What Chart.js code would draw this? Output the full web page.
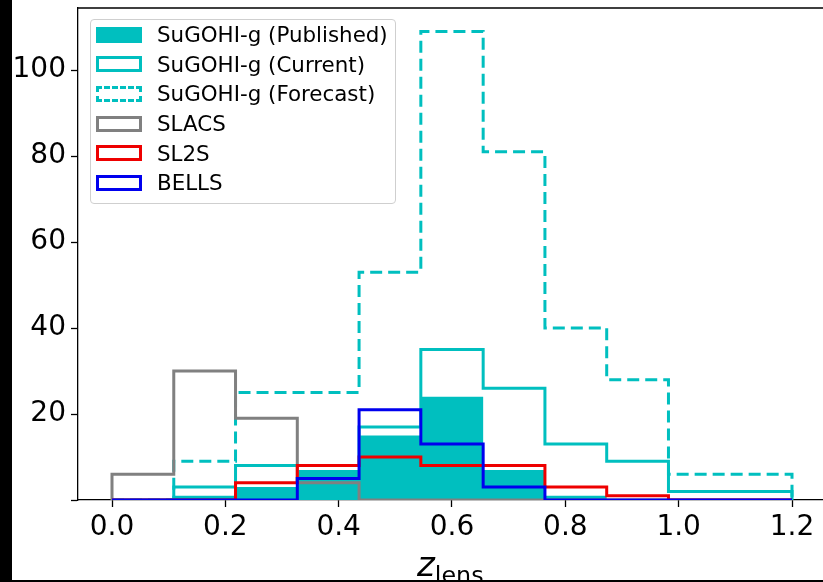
<!DOCTYPE html>
<html>
<head>
<meta charset="utf-8">
<script src="https://cdn.jsdelivr.net/npm/chart.js@4/dist/chart.umd.min.js"></script>
<style>
  html, body { margin: 0; padding: 0; background: #000; width: 823px; height: 582px; overflow: hidden; }
  #frame { position: absolute; left: 12px; top: 0; width: 811px; height: 580px; background: #fff; overflow: hidden; }
  #box { position: absolute; left: 0; top: 0; width: 830px; height: 580px; }
  #legend {
    position: absolute; left: 78px; top: 19px; width: 306px; box-sizing: border-box;
    border: 1px solid #cfcfcf; border-radius: 4px; background: rgba(255,255,255,0.8);
    padding: 0 0 5px 0; font-family: "DejaVu Sans", sans-serif; font-size: 21.4px; color: #000;
  }
  .row { height: 29.6px; display: flex; align-items: center; }
  .patch { width: 46px; height: 16px; margin-left: 5px; margin-right: 15px; box-sizing: border-box; }
  #xlabel { position: absolute; left: 405px; top: 544px; font-family: "DejaVu Sans", sans-serif; font-size: 34px; color: #000; white-space: nowrap; }
  #xlabel i { font-style: italic; }
  #xlabel sub { font-size: 0.7em; vertical-align: -0.3em; }
</style>
</head>
<body>
<div id="frame">
  <div id="box"><canvas id="histChart"></canvas></div>
  <div id="legend"></div>
  <div id="xlabel"><i>z</i><sub>lens</sub></div>
</div>
<script>
// 히스토그램 구간 경계 (z_lens)
const binEdges = [0, 0.109, 0.218, 0.327, 0.436, 0.545, 0.655, 0.764, 0.873, 0.982, 1.091, 1.2];

// 각 샘플의 구간별 렌즈 개수
const publishedCounts = [0, 1, 3, 7, 15, 24, 7, 1, 0, 0, 0];
const currentCounts = [0, 3, 8, 8, 17, 35, 26, 13, 9, 2, 2];
const forecastCounts = [0, 9, 25, 25, 53, 109, 81, 40, 28, 6, 6];
const slacsCounts = [6, 30, 19, 4, 0, 0, 0, 0, 0, 0, 0];
const sl2sCounts = [0, 0, 4, 8, 10, 8, 8, 3, 1, 0, 0];
const bellsCounts = [0, 0, 0, 5, 21, 13, 3, 0, 0, 0, 0];

const xTicks = [0.0, 0.2, 0.4, 0.6, 0.8, 1.0, 1.2];
const yTicks = [0, 20, 40, 60, 80, 100];

const cyan = "#00bfbf";

// 계단형 히스토그램 윤곽선 좌표 만들기
function stepPoints(counts) {
  const pts = [{ x: binEdges[0], y: 0 }];
  counts.forEach((c, i) => pts.push({ x: binEdges[i], y: c }));
  const last = binEdges.length - 1;
  pts.push({ x: binEdges[last], y: counts[counts.length - 1] });
  pts.push({ x: binEdges[last], y: 0 });
  return pts;
}

const series = [
  { label: "SuGOHI-g (Published)", data: publishedCounts, color: cyan, filled: true, dash: [] },
  { label: "SuGOHI-g (Current)", data: currentCounts, color: cyan, filled: false, dash: [] },
  { label: "SuGOHI-g (Forecast)", data: forecastCounts, color: cyan, filled: false, dash: [12, 6] },
  { label: "SLACS", data: slacsCounts, color: "#808080", filled: false, dash: [] },
  { label: "SL2S", data: sl2sCounts, color: "#ee0000", filled: false, dash: [] },
  { label: "BELLS", data: bellsCounts, color: "#0000ee", filled: false, dash: [] },
];

const datasets = series.map((s, i) => ({
  label: s.label,
  data: stepPoints(s.data),
  stepped: true,
  borderColor: s.color,
  backgroundColor: s.color,
  borderWidth: s.filled ? 0 : 3,
  borderDash: s.dash,
  borderJoinStyle: "miter",
  fill: s.filled ? "origin" : false,
  pointRadius: 0,
  order: series.length - i,
}));

// 위쪽/오른쪽 테두리선
const framePlugin = {
  id: "frame",
  afterDraw(chart) {
    const { ctx, chartArea } = chart;
    ctx.save();
    ctx.strokeStyle = "#000";
    ctx.lineWidth = 1.3;
    ctx.beginPath();
    ctx.moveTo(chartArea.left, chartArea.top);
    ctx.lineTo(chartArea.right, chartArea.top);
    ctx.lineTo(chartArea.right, chartArea.bottom);
    ctx.stroke();
    ctx.restore();
  },
};

const tickFont = { family: "DejaVu Sans", size: 28 };

new Chart(document.getElementById("histChart").getContext("2d"), {
  type: "line",
  data: { datasets: datasets },
  options: {
    responsive: true,
    maintainAspectRatio: false,
    animation: false,
    layout: { padding: { top: 8, right: 16, left: 0, bottom: 0 } },
    plugins: { legend: { display: false }, tooltip: { enabled: false } },
    scales: {
      x: {
        type: "linear",
        min: -0.06,
        max: 1.26,
        afterBuildTicks: (scale) => { scale.ticks = xTicks.map((v) => ({ value: v })); },
        afterFit: (scale) => { scale.height = 80; scale.paddingLeft = 0; scale.paddingRight = 0; },
        ticks: { font: tickFont, color: "#000", padding: 4, maxRotation: 0, callback: (v) => v.toFixed(1) },
        grid: { drawOnChartArea: false, tickLength: 7, tickColor: "#000", tickWidth: 1.3 },
        border: { color: "#000", width: 1.3 },
      },
      y: {
        min: 0,
        max: 114.45,
        afterBuildTicks: (scale) => { scale.ticks = yTicks.map((v) => ({ value: v })); },
        afterFit: (scale) => { scale.width = 66; scale.paddingTop = 0; scale.paddingBottom = 0; },
        ticks: { font: tickFont, color: "#000", padding: 5, callback: (v) => (v === 0 ? "" : v) },
        grid: { drawOnChartArea: false, tickLength: 7, tickColor: "#000", tickWidth: 1.3 },
        border: { color: "#000", width: 1.3 },
      },
    },
  },
  plugins: [framePlugin],
});

// 범례 (HTML)
const legendEl = document.getElementById("legend");
series.forEach((s) => {
  const row = document.createElement("div");
  row.className = "row";
  const patch = document.createElement("div");
  patch.className = "patch";
  if (s.filled) {
    patch.style.background = s.color;
  } else {
    patch.style.border = "3px " + (s.dash.length ? "dashed " : "solid ") + s.color;
  }
  const text = document.createElement("span");
  text.textContent = s.label;
  row.appendChild(patch);
  row.appendChild(text);
  legendEl.appendChild(row);
});
</script>
</body>
</html>
